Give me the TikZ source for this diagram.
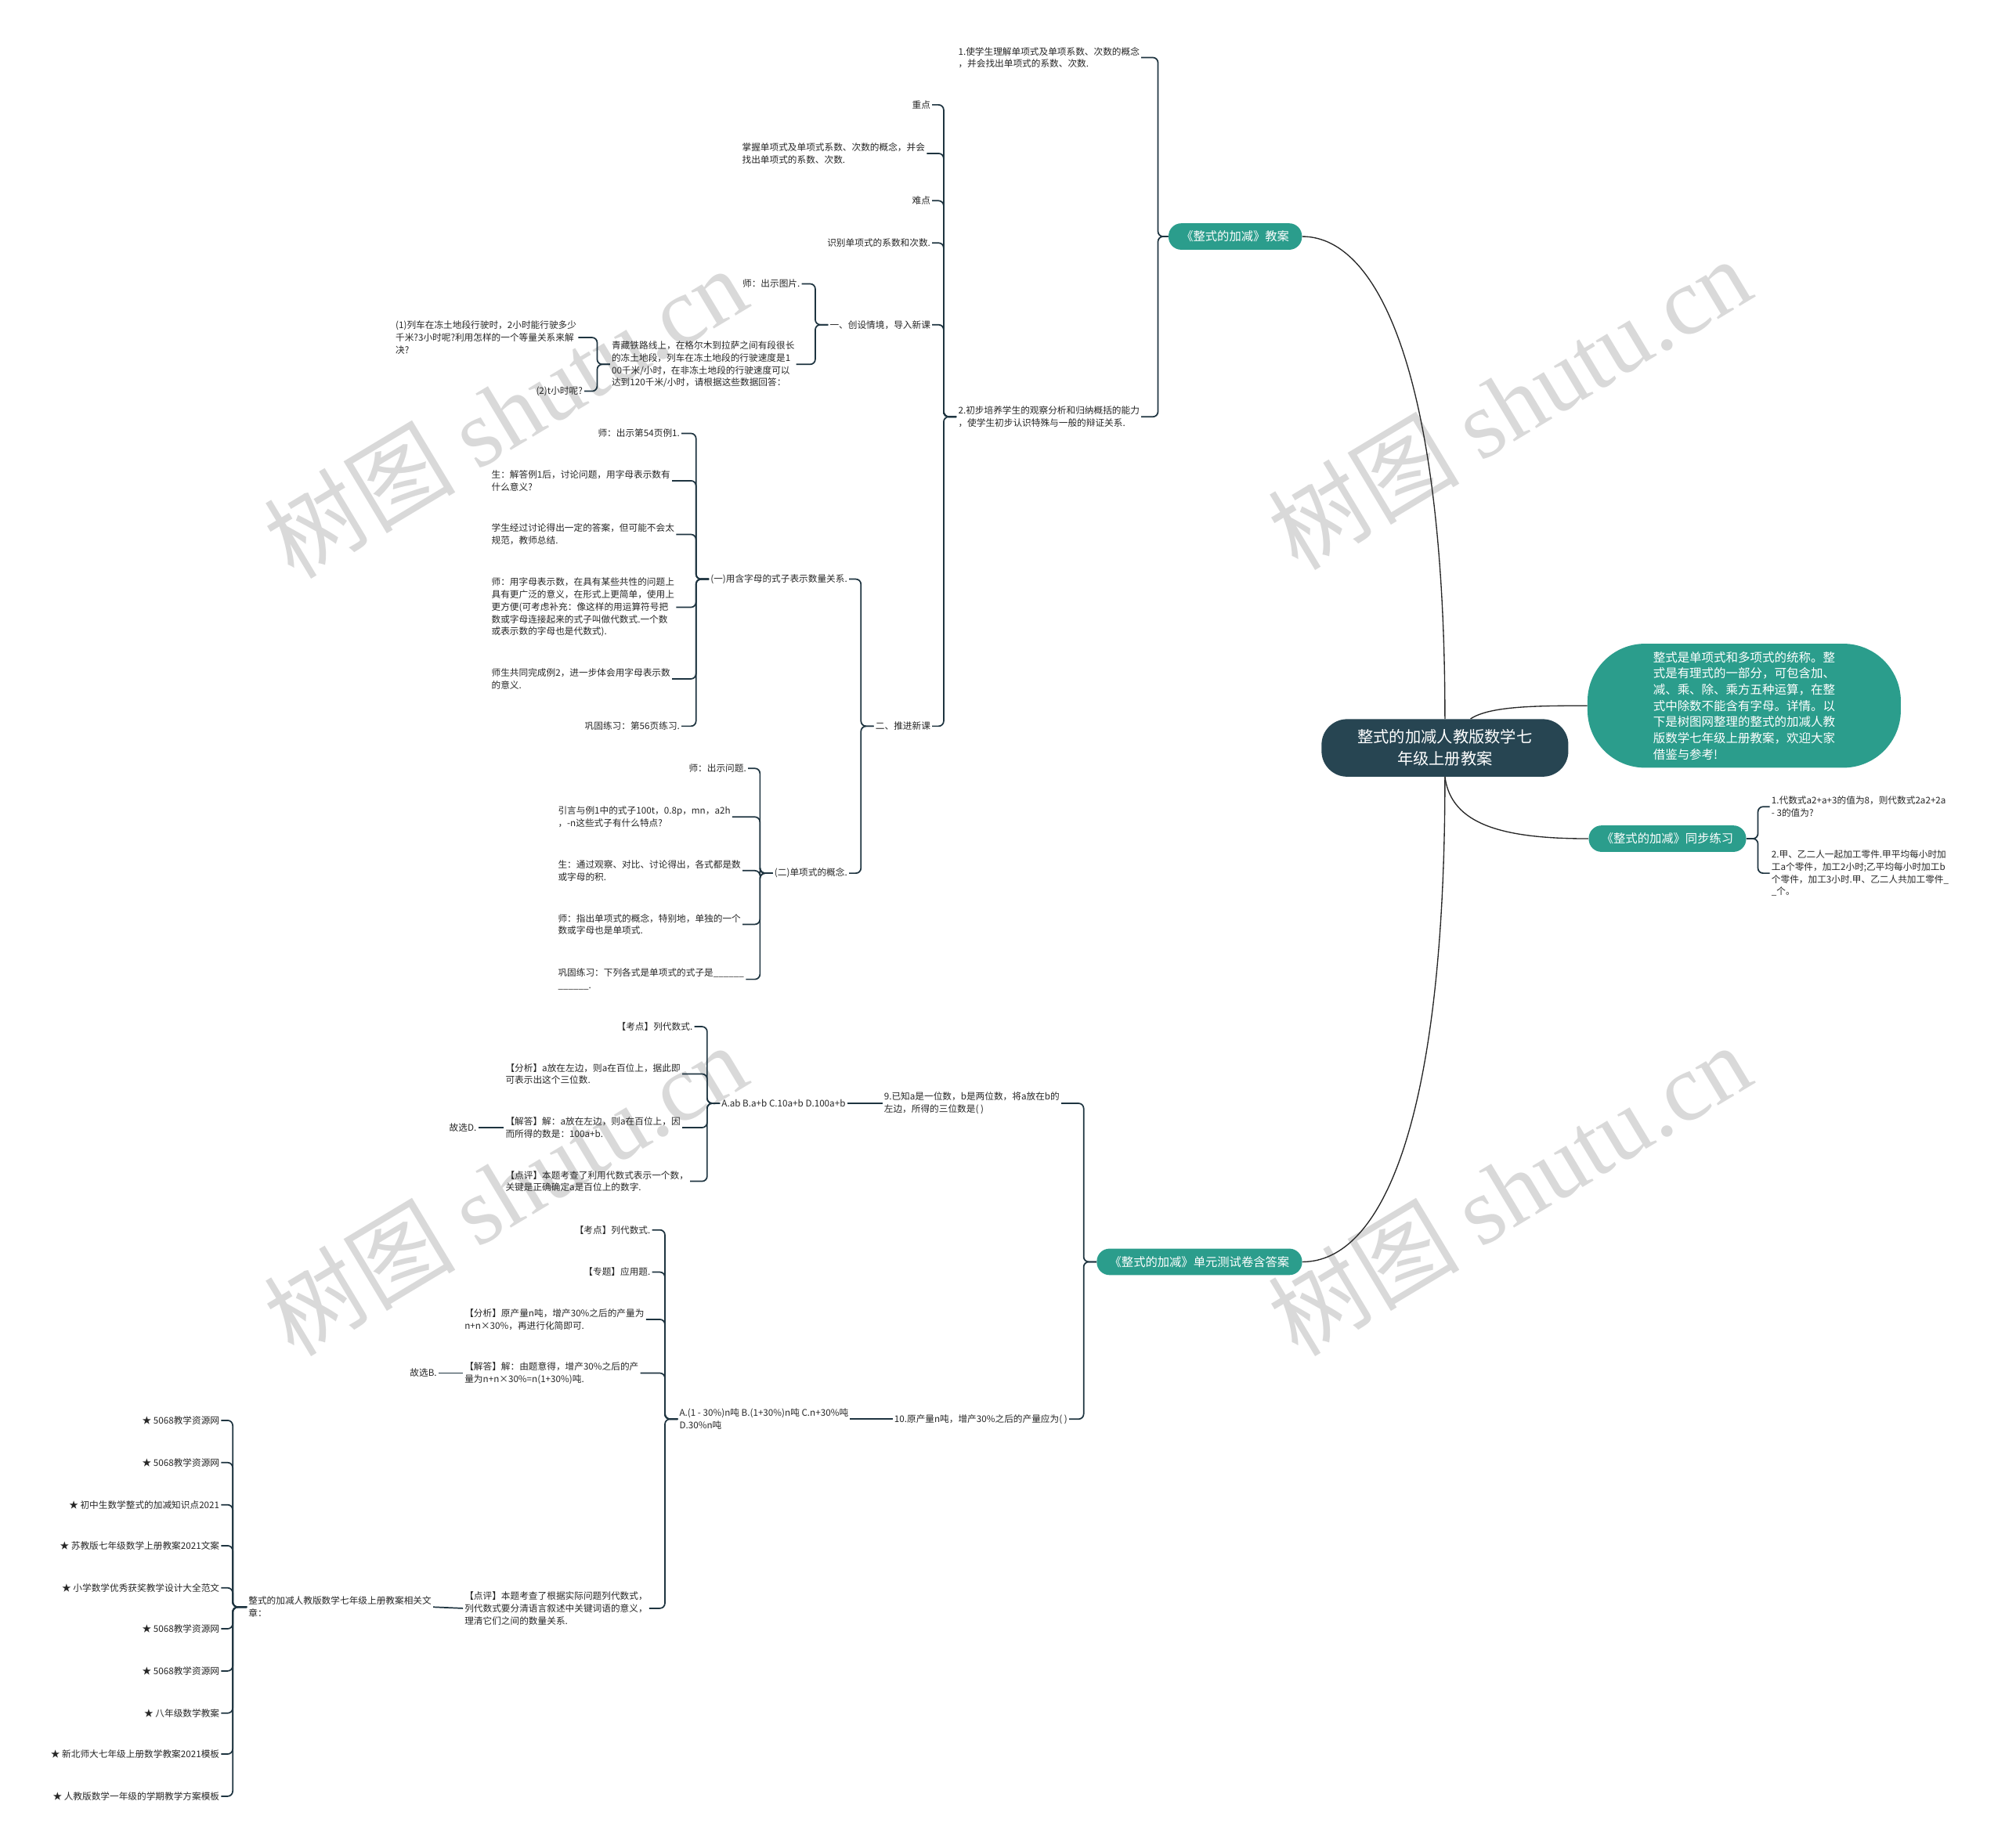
\documentclass[tikz,border=0pt]{standalone}
\usepackage{fontspec}
\setmainfont{Noto Sans CJK SC}
\newfontfamily\wmfont{Liberation Serif}
\definecolor{dunkel}{HTML}{274552}
\definecolor{tuerkis}{HTML}{2B9D8C}
\definecolor{linie}{HTML}{1E3440}
\definecolor{wasser}{HTML}{D9D9D9}

\begin{document}
\begin{tikzpicture}[x=0.03cm,y=-0.03cm]
	\tikzstyle{wurzel} = [fill=dunkel, text=white, rounded corners=0.6cm, minimum width=5.79cm, minimum height=1.35cm, align=center, font=\fontsize{10.6}{14.5}\selectfont]
	\tikzstyle{zweig} = [fill=tuerkis, text=white, rounded corners=0.3cm, minimum height=0.62cm, inner xsep=0.3cm, font=\fontsize{8}{10}\selectfont]
	\tikzstyle{blase} = [fill=tuerkis, text=white, rounded corners=1.35cm, minimum width=7.35cm, minimum height=2.91cm, align=left, font=\fontsize{8.1}{10.8}\selectfont]
	\tikzstyle{blatt} = [align=left, inner sep=1pt, text=black!85, font=\fontsize{6.1}{8.2}\selectfont]
	\tikzstyle{link} = [draw=linie, line width=0.9pt, rounded corners=0.12cm]
	\tikzstyle{bogen} = [draw=black!85, line width=0.7pt]
	\tikzstyle{wm} = [text=wasser, rotate=31, font=\fontsize{64}{66}\selectfont]
  \useasboundingbox (0,0) rectangle (1568,1445);

  % Wasserzeichen
  \node[wm] (wm1) at (395,322) {树图 {\wmfont shutu.cn}};
  \node[wm] (wm2) at (1180,315) {树图 {\wmfont shutu.cn}};
  \node[wm] (wm3) at (395,930) {树图 {\wmfont shutu.cn}};
  \node[wm] (wm4) at (1180,930) {树图 {\wmfont shutu.cn}};

  % Wurzel
  \node[wurzel] (w) at (1130,585) {整式的加减人教版数学七\\年级上册教案};
  \node[blase] (i) at (1364,552) {整式是单项式和多项式的统称。整\\式是有理式的一部分，可包含加、\\减、乘、除、乘方五种运算，在整\\式中除数不能含有字母。详情。以\\下是树图网整理的整式的加减人教\\版数学七年级上册教案，欢迎大家\\借鉴与参考!};
  \node[zweig] (b1) at (966,185) {《整式的加减》教案};
  \node[zweig] (b2) at (1304,656) {《整式的加减》同步练习};
  \node[zweig] (b3) at (938,987) {《整式的加减》单元测试卷含答案};

  \draw[bogen] ([xshift=0.6cm]w.north) .. controls +(15,-10) and +(-40,0) .. (i.west);
  \draw[bogen] (w.north) .. controls (1130,300) and (1080,185) .. (b1.east);
  \draw[bogen] (w.south) .. controls (1135,645) and (1175,656) .. (b2.west);
  \draw[bogen] (w.south) .. controls (1130,880) and (1080,987) .. (b3.east);

  %教案
  \node[blatt, anchor=west] (t1) at (748,45) {1.使学生理解单项式及单项系数、次数的概念\\，并会找出单项式的系数、次数.};
  \node[blatt, anchor=west] (t2) at (748,326) {2.初步培养学生的观察分析和归纳概括的能力\\，使学生初步认识特殊与一般的辩证关系.};
  \node[blatt, anchor=east] (t2a) at (729,82) {重点};
  \node[blatt, anchor=west] (t2b) at (579,120) {掌握单项式及单项式系数、次数的概念，并会\\找出单项式的系数、次数.};
  \node[blatt, anchor=east] (t2c) at (729,157) {难点};
  \node[blatt, anchor=east] (t2d) at (729,190) {识别单项式的系数和次数.};
  \node[blatt, anchor=east] (t2e) at (729,254) {一、创设情境，导入新课};
  \node[blatt, anchor=east] (t2f) at (729,568) {二、推进新课};
  \node[blatt, anchor=east] (e1) at (627,222) {师：出示图片.};
  \node[blatt, anchor=west] (e2) at (477,285) {青藏铁路线上，在格尔木到拉萨之间有段很长\\的冻土地段，列车在冻土地段的行驶速度是1\\00千米/小时，在非冻土地段的行驶速度可以\\达到120千米/小时，请根据这些数据回答：};
  \node[blatt, anchor=west] (e2a) at (308,264) {(1)列车在冻土地段行驶时，2小时能行驶多少\\千米?3小时呢?利用怎样的一个等量关系来解\\决?};
  \node[blatt, anchor=east] (e2b) at (457,306) {(2)t小时呢?};
  \node[blatt, anchor=east] (f1) at (664,453) {(一)用含字母的式子表示数量关系.};
  \node[blatt, anchor=east] (f2) at (664,683) {(二)单项式的概念.};
  \node[blatt, anchor=east] (g1) at (533,339) {师：出示第54页例1.};
  \node[blatt, anchor=west] (g2) at (383,376) {生：解答例1后，讨论问题，用字母表示数有\\什么意义?};
  \node[blatt, anchor=west] (g3) at (383,418) {学生经过讨论得出一定的答案，但可能不会太\\规范，教师总结.};
  \node[blatt, anchor=west] (g4) at (383,475) {师：用字母表示数，在具有某些共性的问题上\\具有更广泛的意义，在形式上更简单，使用上\\更方便(可考虑补充：像这样的用运算符号把\\数或字母连接起来的式子叫做代数式.一个数\\或表示数的字母也是代数式).};
  \node[blatt, anchor=west] (g5) at (383,531) {师生共同完成例2，进一步体会用字母表示数\\的意义.};
  \node[blatt, anchor=east] (g6) at (533,568) {巩固练习：第56页练习.};
  \node[blatt, anchor=east] (h1) at (585,601) {师：出示问题.};
  \node[blatt, anchor=west] (h2) at (435,639) {引言与例1中的式子100t，0.8p，mn，a2h\\，-n这些式子有什么特点?};
  \node[blatt, anchor=west] (h3) at (435,681) {生：通过观察、对比、讨论得出，各式都是数\\或字母的积.};
  \node[blatt, anchor=west] (h4) at (435,723) {师：指出单项式的概念，特别地，单独的一个\\数或字母也是单项式.};
  \node[blatt, anchor=west] (h5) at (435,766) {巩固练习：下列各式是单项式的式子是\_\_\_\_\_\_\\\_\_\_\_\_\_.};

  \draw[link] (b1.west) -- ++(-8,0) |- (t1.east);
  \draw[link] (b1.west) -- ++(-8,0) |- (t2.east);
  \draw[link] (t2.west) -- ++(-10,0) |- (t2a.east);
  \draw[link] (t2.west) -- ++(-10,0) |- (t2b.east);
  \draw[link] (t2.west) -- ++(-10,0) |- (t2c.east);
  \draw[link] (t2.west) -- ++(-10,0) |- (t2d.east);
  \draw[link] (t2.west) -- ++(-10,0) |- (t2e.east);
  \draw[link] (t2.west) -- ++(-10,0) |- (t2f.east);
  \draw[link] (t2e.west) -- ++(-10,0) |- (e1.east);
  \draw[link] (t2e.west) -- ++(-10,0) |- (e2.east);
  \draw[link] (e2.west) -- ++(-10,0) |- (e2a.east);
  \draw[link] (e2.west) -- ++(-10,0) |- (e2b.east);
  \draw[link] (t2f.west) -- ++(-10,0) |- (f1.east);
  \draw[link] (t2f.west) -- ++(-10,0) |- (f2.east);
  \draw[link] (f1.west) -- ++(-10,0) |- (g1.east);
  \draw[link] (f1.west) -- ++(-10,0) |- (g2.east);
  \draw[link] (f1.west) -- ++(-10,0) |- (g3.east);
  \draw[link] (f1.west) -- ++(-10,0) |- (g4.east);
  \draw[link] (f1.west) -- ++(-10,0) |- (g5.east);
  \draw[link] (f1.west) -- ++(-10,0) |- (g6.east);
  \draw[link] (f2.west) -- ++(-10,0) |- (h1.east);
  \draw[link] (f2.west) -- ++(-10,0) |- (h2.east);
  \draw[link] (f2.west) -- ++(-10,0) |- (h3.east);
  \draw[link] (f2.west) -- ++(-10,0) |- (h4.east);
  \draw[link] (f2.west) -- ++(-10,0) |- (h5.east);

  % 同步练习
  \node[blatt, anchor=west] (c1) at (1384,631) {1.代数式a2+a+3的值为8，则代数式2a2+2a\\- 3的值为?};
  \node[blatt, anchor=west] (c2) at (1384,683) {2.甲、乙二人一起加工零件.甲平均每小时加\\工a个零件，加工2小时;乙平均每小时加工b\\个零件，加工3小时.甲、乙二人共加工零件\_\\\_个。};

  \draw[link] (b2.east) -- ++(9,0) |- (c1.west);
  \draw[link] (b2.east) -- ++(9,0) |- (c2.west);

  % 单元测试
  \node[blatt, anchor=west] (q9) at (690,863) {9.已知a是一位数，b是两位数，将a放在b的\\左边，所得的三位数是( )};
  \node[blatt, anchor=west] (q10) at (698,1110) {10.原产量n吨，增产30\%之后的产量应为( )};
  \node[blatt, anchor=west] (a9) at (563,863) {A.ab B.a+b C.10a+b D.100a+b};
  \node[blatt, anchor=east] (k1) at (543,803) {【考点】列代数式.};
  \node[blatt, anchor=west] (k2) at (394,840) {【分析】a放在左边，则a在百位上，据此即\\可表示出这个三位数.};
  \node[blatt, anchor=west] (k3) at (394,882) {【解答】解：a放在左边，则a在百位上，因\\而所得的数是：100a+b.};
  \node[blatt, anchor=west] (k4) at (394,924) {【点评】本题考查了利用代数式表示一个数，\\关键是正确确定a是百位上的数字.};
  \node[blatt, anchor=east] (d9) at (374,882) {故选D.};
  \node[blatt, anchor=west] (a10) at (530,1110) {A.(1 - 30\%)n吨 B.(1+30\%)n吨 C.n+30\%吨\\D.30\%n吨};
  \node[blatt, anchor=east] (m1) at (510,962) {【考点】列代数式.};
  \node[blatt, anchor=east] (m2) at (510,995) {【专题】应用题.};
  \node[blatt, anchor=west] (m3) at (362,1032) {【分析】原产量n吨，增产30\%之后的产量为\\n+n×30\%，再进行化简即可.};
  \node[blatt, anchor=west] (m4) at (362,1074) {【解答】解：由题意得，增产30\%之后的产\\量为n+n×30\%=n(1+30\%)吨.};
  \node[blatt, anchor=west] (m5) at (362,1258) {【点评】本题考查了根据实际问题列代数式，\\列代数式要分清语言叙述中关键词语的意义，\\理清它们之间的数量关系.};
  \node[blatt, anchor=east] (d10) at (343,1074) {故选B.};
  \node[blatt, anchor=west] (r) at (193,1257) {整式的加减人教版数学七年级上册教案相关文\\章：};

  \draw[link] (b3.west) -- ++(-10,0) |- (q9.east);
  \draw[link] (b3.west) -- ++(-10,0) |- (q10.east);
  \draw[link] (q9.west) -- (a9.east);
  \draw[link] (q10.west) -- (a10.east);
  \draw[link] (a9.west) -- ++(-10,0) |- (k1.east);
  \draw[link] (a9.west) -- ++(-10,0) |- (k2.east);
  \draw[link] (a9.west) -- ++(-10,0) |- (k3.east);
  \draw[link] (a9.west) -- ++(-10,0) |- (k4.east);
  \draw[link] (k3.west) -- (d9.east);
  \draw[link] (a10.west) -- ++(-10,0) |- (m1.east);
  \draw[link] (a10.west) -- ++(-10,0) |- (m2.east);
  \draw[link] (a10.west) -- ++(-10,0) |- (m3.east);
  \draw[link] (a10.west) -- ++(-10,0) |- (m4.east);
  \draw[link] (a10.west) -- ++(-10,0) |- (m5.east);
  \draw[link] (m4.west) -- (d10.east);
  \draw[link] (m5.west) -- (r.east);

  % 相关文章
  \node[blatt, anchor=east] (s1) at (173,1111) {★ 5068教学资源网};
  \node[blatt, anchor=east] (s2) at (173,1144) {★ 5068教学资源网};
  \node[blatt, anchor=east] (s3) at (173,1177) {★ 初中生数学整式的加减知识点2021};
  \node[blatt, anchor=east] (s4) at (173,1209) {★ 苏教版七年级数学上册教案2021文案};
  \node[blatt, anchor=east] (s5) at (173,1242) {★ 小学数学优秀获奖教学设计大全范文};
  \node[blatt, anchor=east] (s6) at (173,1274) {★ 5068教学资源网};
  \node[blatt, anchor=east] (s7) at (173,1307) {★ 5068教学资源网};
  \node[blatt, anchor=east] (s8) at (173,1340) {★ 八年级数学教案};
  \node[blatt, anchor=east] (s9) at (173,1372) {★ 新北师大七年级上册数学教案2021模板};
  \node[blatt, anchor=east] (s10) at (173,1405) {★ 人教版数学一年级的学期教学方案模板};

  \draw[link] (r.west) -- ++(-11,0) |- (s1.east);
  \draw[link] (r.west) -- ++(-11,0) |- (s2.east);
  \draw[link] (r.west) -- ++(-11,0) |- (s3.east);
  \draw[link] (r.west) -- ++(-11,0) |- (s4.east);
  \draw[link] (r.west) -- ++(-11,0) |- (s5.east);
  \draw[link] (r.west) -- ++(-11,0) |- (s6.east);
  \draw[link] (r.west) -- ++(-11,0) |- (s7.east);
  \draw[link] (r.west) -- ++(-11,0) |- (s8.east);
  \draw[link] (r.west) -- ++(-11,0) |- (s9.east);
  \draw[link] (r.west) -- ++(-11,0) |- (s10.east);
\end{tikzpicture}
\end{document}
